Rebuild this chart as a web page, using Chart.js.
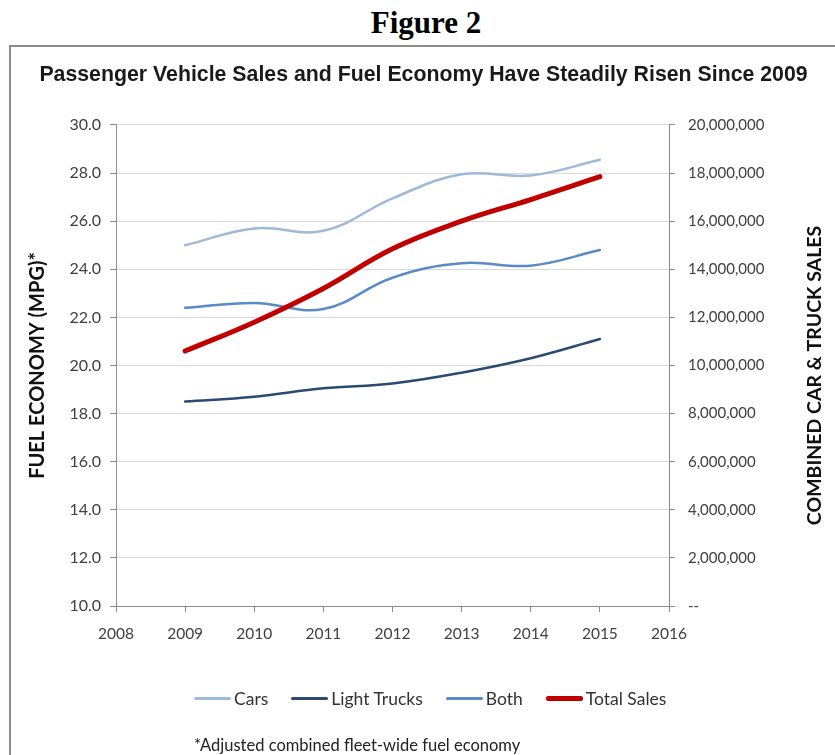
<!DOCTYPE html>
<html>
<head>
<meta charset="utf-8">
<script src="https://cdn.jsdelivr.net/npm/chart.js@4/dist/chart.umd.min.js"></script>
<style>
  html, body { margin: 0; padding: 0; background: #fff; }
  body { width: 835px; height: 755px; position: relative; overflow: hidden; }
  #fig { position: absolute; left: 0; width: 852px; top: 5px; text-align: center;
         font: bold 31px "Liberation Serif", "Times New Roman", serif; color: #000; }
  #box { position: absolute; left: 9px; top: 45px; width: 840px; height: 740px;
         border: 2px solid #8c8c8c; box-sizing: border-box; }
  #wrap { position: absolute; left: 12px; top: 48px; width: 823px; height: 707px; }
  #legend { position: absolute; left: 194px; top: 688px; display: flex; align-items: center;
            font: 17.5px Lato, sans-serif; color: #333; white-space: nowrap; }
  #legend .item { display: flex; align-items: center; margin-right: 23px; }
  #legend .sw { width: 37px; margin-right: 3px; border-radius: 2px; }
  #note { position: absolute; left: 194px; top: 735px; font: 16.5px Lato, sans-serif; color: #222; }
</style>
</head>
<body>
<div id="fig">Figure 2</div>
<div id="box"></div>
<div id="wrap"><canvas id="c" width="823" height="707"></canvas></div>
<div id="legend"></div>
<div id="note">*Adjusted combined fleet-wide fuel economy</div>
<script>
const years = [2009, 2010, 2011, 2012, 2013, 2014, 2015];
const cars = [25.0, 25.7, 25.6, 26.95, 27.95, 27.9, 28.55];
const lightTrucks = [18.5, 18.7, 19.05, 19.25, 19.7, 20.3, 21.1];
const both = [22.4, 22.6, 22.35, 23.65, 24.25, 24.15, 24.8];
const totalSales = [10600000, 11800000, 13200000, 14850000, 16000000, 16900000, 17850000];
const mpgTicks = [10, 12, 14, 16, 18, 20, 22, 24, 26, 28, 30];
const salesTicks = [0, 2000000, 4000000, 6000000, 8000000, 10000000, 12000000, 14000000, 16000000, 18000000, 20000000];
const yearTicks = [2008, 2009, 2010, 2011, 2012, 2013, 2014, 2015, 2016];

const pts = arr => years.map((y, i) => ({ x: y, y: arr[i] }));
const tickColor = '#404040';

const rightTitle = {
  id: 'rightTitle',
  afterDraw(chart) {
    const ctx = chart.ctx;
    const a = chart.chartArea;
    ctx.save();
    ctx.translate(803, (a.top + a.bottom) / 2 + 10);
    ctx.rotate(-Math.PI / 2);
    ctx.font = 'bold 19.5px Lato';
    ctx.fillStyle = '#111';
    ctx.textAlign = 'center';
    ctx.textBaseline = 'middle';
    ctx.fillText('COMBINED CAR & TRUCK SALES', 0, 0);
    ctx.restore();
  }
};

const chart = new Chart(document.getElementById('c'), {
  type: 'line',
  data: {
    datasets: [
      { label: 'Cars', data: pts(cars), borderColor: '#9fb9d8', backgroundColor: '#9fb9d8', borderWidth: 2.5, yAxisID: 'y', order: 1 },
      { label: 'Light Trucks', data: pts(lightTrucks), borderColor: '#2b4a70', backgroundColor: '#2b4a70', borderWidth: 2.5, yAxisID: 'y', order: 1 },
      { label: 'Both', data: pts(both), borderColor: '#5a8bc6', backgroundColor: '#5a8bc6', borderWidth: 2.5, yAxisID: 'y', order: 1 },
      { label: 'Total Sales', data: pts(totalSales), borderColor: '#c00000', backgroundColor: '#c00000', borderWidth: 5, yAxisID: 'y2', order: 0 }
    ]
  },
  options: {
    responsive: false,
    animation: false,
    devicePixelRatio: 1,
    elements: { point: { radius: 0 }, line: { tension: 0.4, borderCapStyle: 'round' } },
    layout: { padding: { left: 0, right: 0, top: 0, bottom: 89 } },
    plugins: {
      tooltip: { enabled: false },
      legend: { display: false },
      title: {
        display: true,
        text: 'Passenger Vehicle Sales and Fuel Economy Have Steadily Risen Since 2009',
        font: { family: 'Liberation Sans', size: 21.3, weight: 'bold' },
        color: '#1a1a1a',
        padding: { top: 14.2, bottom: 37.2 }
      }
    },
    scales: {
      x: {
        type: 'linear',
        min: 2008, max: 2016,
        afterBuildTicks: s => { s.ticks = yearTicks.map(v => ({ value: v })); },
        afterFit: s => { s.height = 60; },
        ticks: { font: { family: 'Lato', size: 15.5 }, color: tickColor, padding: 13, callback: v => String(v), maxRotation: 0 },
        grid: { drawOnChartArea: false, tickLength: 6, color: '#8c8c8c' },
        border: { color: '#8c8c8c' }
      },
      y: {
        position: 'left',
        min: 10, max: 30,
        afterBuildTicks: s => { s.ticks = mpgTicks.map(v => ({ value: v })); },
        afterFit: s => { s.width = 104; },
        ticks: { font: { family: 'Lato', size: 16 }, color: tickColor, padding: 9, callback: v => v.toFixed(1) },
        grid: { color: '#d9d9d9', tickColor: '#8c8c8c', tickLength: 6 },
        border: { color: '#8c8c8c' },
        title: { display: true, text: 'FUEL ECONOMY (MPG)*', font: { family: 'Lato', size: 20, weight: 'bold' }, color: '#111', padding: { top: 14, bottom: 0 } }
      },
      y2: {
        position: 'right',
        min: 0, max: 20000000,
        afterBuildTicks: s => { s.ticks = salesTicks.map(v => ({ value: v })); },
        afterFit: s => { s.width = 166; },
        ticks: { font: { family: 'Lato', size: 15 }, color: tickColor, padding: 13, callback: v => v === 0 ? '--' : v.toLocaleString('en-US') },
        grid: { drawOnChartArea: false, tickLength: 6, color: '#8c8c8c' },
        border: { color: '#8c8c8c' }
      }
    }
  },
  plugins: [rightTitle]
});

// HTML legend built from the chart's datasets
const legendEl = document.getElementById('legend');
chart.data.datasets.forEach(ds => {
  const item = document.createElement('div');
  item.className = 'item';
  const sw = document.createElement('span');
  sw.className = 'sw';
  sw.style.height = ds.borderWidth + 'px';
  sw.style.background = ds.borderColor;
  const t = document.createElement('span');
  t.textContent = ds.label;
  item.appendChild(sw);
  item.appendChild(t);
  legendEl.appendChild(item);
});
</script>
</body>
</html>
